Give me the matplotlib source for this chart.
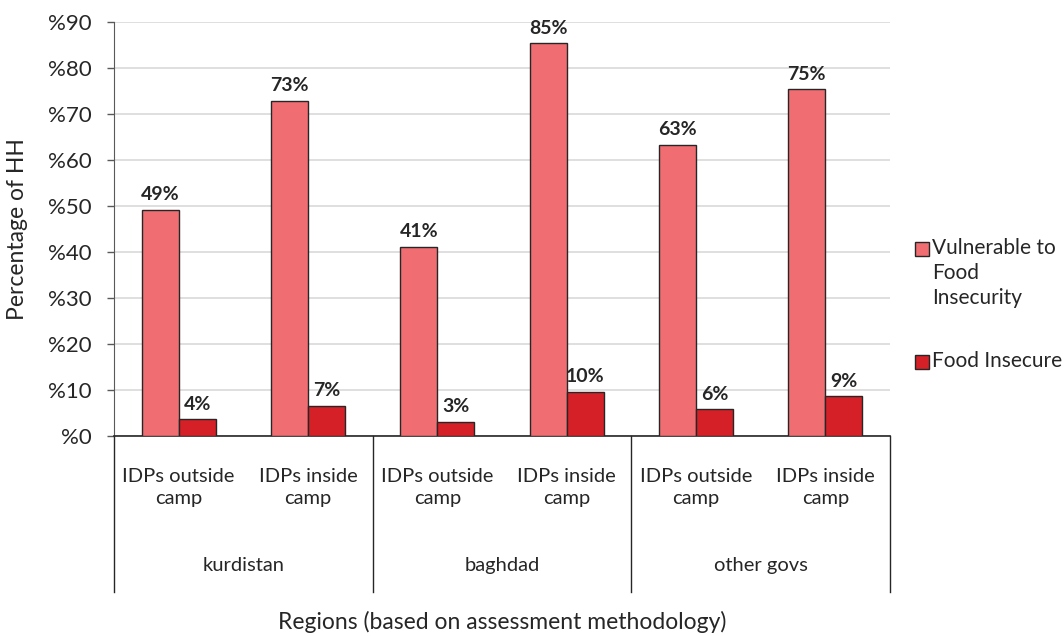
import matplotlib
matplotlib.use("Agg")
import matplotlib.pyplot as plt
from matplotlib.patches import Rectangle
from matplotlib.lines import Line2D
import numpy as np

plt.rcParams['font.family'] = ['Lato', 'DejaVu Sans']

# Data
regions = ["kurdistan", "baghdad", "other govs"]
subgroups = ["IDPs outside\ncamp", "IDPs inside\ncamp"]
vulnerable = [49.2, 72.9, 41.2, 85.4, 63.4, 75.4]
insecure = [3.6, 6.6, 3.1, 9.6, 5.8, 8.6]
series_names = ["Vulnerable to\nFood\nInsecurity", "Food Insecure"]
yticks = [0, 10, 20, 30, 40, 50, 60, 70, 80, 90]
ytick_labels = ["%" + str(v) for v in yticks]

c_light = "#F06E72"
c_dark = "#D62027"
edge = "#262626"
text_c = "#262626"

W, H = 1064, 636
fig = plt.figure(figsize=(W / 100, H / 100), dpi=100)
ax = fig.add_axes([114 / W, 1 - 436 / H, (890 - 114) / W, (436 - 22.3) / H])

n = len(vulnerable)
x = np.arange(n)
bw = 0.286
b1 = ax.bar(x - bw / 2, vulnerable, bw, color=c_light, edgecolor=edge, linewidth=1.0, zorder=3)
b2 = ax.bar(x + bw / 2, insecure, bw, color=c_dark, edgecolor=edge, linewidth=1.0, zorder=3)

for rect, v in zip(list(b1) + list(b2), vulnerable + insecure):
    ax.text(rect.get_x() + rect.get_width() / 2, v + 1.4, f"{v:.0f}%",
            ha="center", va="bottom", fontsize=14, fontweight="bold", color=text_c)

ax.set_xlim(-0.5, n - 0.5)
ax.set_ylim(0, 90)
ax.set_yticks(yticks)
ax.set_yticklabels(ytick_labels, fontsize=16, color=text_c)
ax.tick_params(axis="y", length=5, width=1, color="#595959", pad=11)
ax.set_xticks([])
ax.grid(axis="y", color="#D9D9D9", linewidth=1.2, zorder=0)
ax.set_axisbelow(True)
for s in ["top", "right"]:
    ax.spines[s].set_visible(False)
ax.spines["left"].set_color("#595959")
ax.spines["bottom"].set_color("#262626")
ax.spines["bottom"].set_linewidth(1.2)

ax.set_ylabel("Percentage of HH", fontsize=16.5, color=text_c)
ax.yaxis.set_label_coords(-0.111, 0.5)

# Multi-level category axis
trans = ax.get_xaxis_transform()
for i in range(n):
    ax.text(x[i], -0.125, subgroups[i % 2], transform=trans, ha="center", va="center",
            fontsize=14.5, color=text_c, linespacing=1.35)
for g, name in enumerate(regions):
    ax.text(2 * g + 0.5, -0.312, name, transform=trans, ha="center", va="center",
            fontsize=14.5, color=text_c)
for xs in [-0.5, 1.5, 3.5, 5.5]:
    ax.add_line(Line2D([xs, xs], [0, -0.377], transform=trans, color="#262626",
                       linewidth=1.0, clip_on=False))

fig.text((114 + 890) / 2 / W, 1 - 622 / H, "Regions (based on assessment methodology)",
         ha="center", va="center", fontsize=16.5, color=text_c)

# Legend
sq = 14
for (ytxt, label, col) in [(249, series_names[0], c_light), (362, series_names[1], c_dark)]:
    fig.add_artist(Rectangle((915 / W, 1 - (ytxt + sq / 2) / H), sq / W, sq / H,
                             transform=fig.transFigure, facecolor=col, edgecolor=edge, linewidth=1.0))
    fig.text(932 / W, 1 - (ytxt - 11) / H, label, ha="left", va="top", fontsize=15,
             color=text_c, linespacing=1.3)

fig.savefig("out.png", dpi=100)
